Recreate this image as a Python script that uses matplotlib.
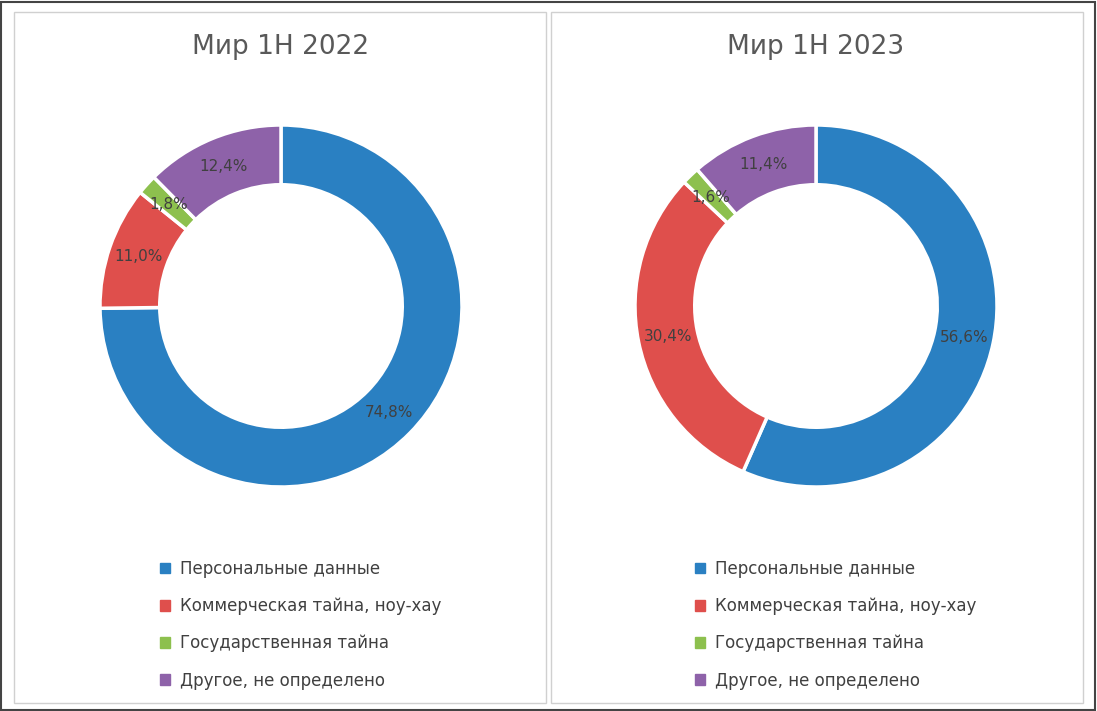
import matplotlib
matplotlib.use("Agg")
import matplotlib.pyplot as plt
from matplotlib.patches import Rectangle, Patch

categories = ["Персональные данные", "Коммерческая тайна, ноу-хау", "Государственная тайна", "Другое, не определено"]
titles = ["Мир 1H 2022", "Мир 1H 2023"]
values_2022 = [74.8, 11.0, 1.8, 12.4]
values_2023 = [56.6, 30.4, 1.6, 11.4]
colors = ["#2A80C2", "#DF4F4C", "#8DC04E", "#8E62A9"]

W, H = 1097, 711
fig = plt.figure(figsize=(W/100, H/100), dpi=100)
fig.patches.append(Rectangle((1/W, 1/H), 1-3/W, 1-3/H, transform=fig.transFigure, fill=False, ec="#444444", lw=1.5))
for x0, x1 in [(14, 546), (551, 1083)]:
    fig.patches.append(Rectangle((x0/W, (H-703)/H), (x1-x0)/W, (703-12)/H, transform=fig.transFigure, fill=False, ec="#D0D0D0", lw=1))

for cx, vals, title in [(281, values_2022, titles[0]), (816, values_2023, titles[1])]:
    r = 181
    ax = fig.add_axes([(cx-r)/W, (H-306-r)/H, 2*r/W, 2*r/H])
    wedges, texts = ax.pie(vals, colors=colors, startangle=90, counterclock=False,
                           radius=1, wedgeprops=dict(width=0.33, edgecolor="white", linewidth=2.5),
                           labels=[f"{v:.1f}".replace(".", ",") + "%" for v in vals],
                           labeldistance=0.835, textprops=dict(color="#404040", fontsize=11, ha="center", va="center"))
    for t in texts:
        t.set_ha("center"); t.set_va("center")
    ax.set_xlim(-1, 1); ax.set_ylim(-1, 1); ax.set_aspect("equal"); ax.axis("off")
    fig.text(cx/W, (H-47)/H, title, ha="center", va="center", fontsize=19, color="#595959")
    handles = [Patch(color=c) for c in colors]
    fig.legend(handles, categories, loc="upper left", bbox_to_anchor=((cx-136)/W, (H-545)/H),
               frameon=False, fontsize=12, labelcolor="#404040", handlelength=0.6, handleheight=0.6,
               handletextpad=0.6, labelspacing=1.15)

fig.savefig("out.png", dpi=100, facecolor="white")
